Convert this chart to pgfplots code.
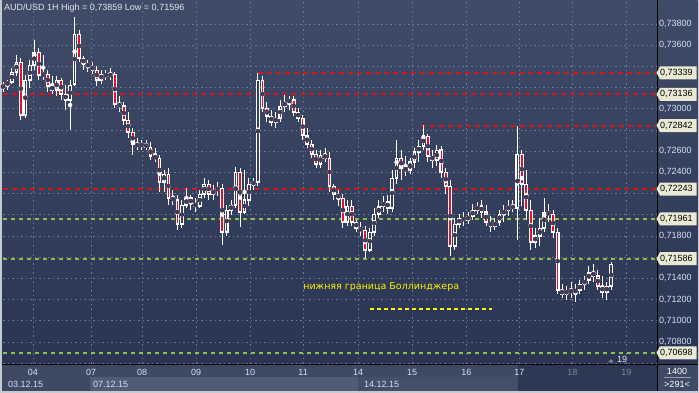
\documentclass[border=0pt]{standalone}
\usepackage{fontspec}
\setmainfont{Liberation Sans}
\newfontfamily\dejavu{DejaVu Sans}
\usepackage{pgfplots}
\pgfplotsset{compat=1.18}
\usepackage{pgfplotstable}

\definecolor{bgtop}{RGB}{63,75,103}
\definecolor{bgbot}{RGB}{41,53,82}
\definecolor{bordc}{RGB}{196,201,210}
\definecolor{gridc}{RGB}{105,120,150}
\definecolor{lvlred}{RGB}{214,18,30}
\definecolor{lvlgreen}{RGB}{140,192,72}
\definecolor{tagc}{RGB}{234,234,212}
\definecolor{tickc}{RGB}{214,224,244}
\definecolor{xgray}{RGB}{125,136,158}
\definecolor{bearc}{RGB}{230,16,40}
\definecolor{hollowc}{RGB}{52,64,92}
\definecolor{rowA}{RGB}{62,73,99}
\definecolor{rowB}{RGB}{80,92,118}
\definecolor{rowC}{RGB}{67,79,105}
\definecolor{rowD}{RGB}{44,56,84}

\pgfplotstableread{
x o h l c
0 73196 73252 73158 73224
2 73224 73271 73177 73252
4 73252 73385 73234 73347
6 73347 73507 73309 73441
8 73441 73479 72894 72941
10 72941 73318 72913 73271
12 73271 73460 73196 73413
14 73413 73649 73366 73535
16 73535 73573 73271 73318
18 73318 73507 73271 73328
20 73328 73366 73158 73215
22 73215 73309 73139 73177
24 73177 73309 73120 73271
26 73271 73290 73083 73139
28 73139 73224 72988 73083
30 73083 73271 72800 73224
32 73234 73866 73215 73705
34 73705 73743 73441 73479
36 73479 73498 73366 73422
38 73422 73460 73347 73403
40 73403 73441 73328 73366
42 73366 73403 73215 73271
44 73271 73366 73234 73328
46 73328 73366 73271 73309
48 73309 73385 73271 73328
50 73328 73347 73007 73045
52 73045 73120 72969 73026
54 73026 73064 72847 72894
56 72894 72969 72724 72781
58 72781 72818 72564 72667
60 72667 72724 72611 72649
62 72649 72705 72611 72667
64 72667 72705 72611 72639
66 72639 72686 72517 72554
68 72554 72630 72498 72535
70 72535 72564 72215 72309
72 72309 72422 72215 72385
74 72385 72441 72092 72158
76 72158 72234 72092 72140
78 72140 72186 71856 71913
80 71913 72140 71875 72092
82 72092 72252 72064 72158
84 72158 72186 72045 72102
86 72102 72158 72026 72083
88 72083 72234 72064 72196
90 72196 72347 72158 72290
92 72290 72328 72140 72196
94 72196 72281 72140 72234
96 72234 72309 72177 72252
98 72252 72290 71715 71837
100 71837 72092 71800 72045
102 72045 72140 71998 72092
104 72092 72451 72064 72403
106 72403 72441 71884 72026
108 72026 72422 72007 72140
110 72140 72347 72083 72290
112 72290 72347 72234 72309
114 72309 73337 72271 73271
116 73271 73309 72969 73007
118 73007 73064 72875 72932
120 72932 72988 72837 72875
122 72875 72969 72818 72913
124 72913 73083 72875 73026
126 73026 73130 72969 73064
128 73064 73120 72988 73083
130 73083 73120 72932 72969
132 72969 73007 72875 72913
134 72913 72941 72705 72752
136 72752 72818 72630 72667
138 72667 72705 72535 72573
140 72573 72611 72441 72479
142 72479 72611 72441 72564
144 72564 72630 72498 72535
146 72535 72592 72215 72271
148 72271 72290 72140 72196
150 72196 72234 72083 72158
152 72158 72196 71875 71932
154 71932 72140 71894 72083
156 72083 72140 71894 71932
158 71932 71951 71837 71875
160 71875 71932 71800 71856
162 71856 71894 71592 71668
164 71668 71875 71649 71837
166 71837 72064 71800 72007
168 72007 72140 71969 72083
170 72083 72177 72026 72121
172 72121 72186 72007 72064
174 72064 72422 72026 72347
176 72347 72705 72290 72535
178 72535 72611 72328 72441
180 72441 72554 72366 72422
182 72422 72535 72385 72498
184 72498 72630 72441 72592
186 72592 72705 72498 72649
188 72649 72847 72611 72743
190 72743 72762 72498 72554
192 72554 72611 72441 72517
194 72517 72658 72460 72611
196 72611 72649 72347 72403
198 72403 72441 72196 72271
200 72271 72328 71611 71705
202 71705 71969 71668 71913
204 71913 72007 71875 71969
206 71969 72026 71894 71951
208 71951 72026 71913 71988
210 71988 72102 71951 72045
212 72045 72121 72007 72083
214 72083 72140 71969 72026
216 72026 72092 71894 71932
218 71932 71988 71837 71894
220 71894 71969 71856 71932
222 71932 72045 71894 72007
224 72007 72092 71932 72045
226 72045 72140 71988 72083
228 72083 72140 72026 72064
230 72064 72837 71762 72573
232 72573 72611 72083 72290
234 72290 72422 71951 72045
236 72045 72140 71668 71743
238 71743 71875 71686 71800
240 71800 71969 71705 71875
242 71875 72158 71837 72026
244 72026 72102 71932 72007
246 72007 72045 71781 71837
248 71837 71875 71252 71290
250 71290 71347 71215 71252
252 71252 71328 71196 71290
254 71290 71366 71215 71271
256 71271 71347 71177 71290
258 71290 71385 71252 71347
260 71347 71422 71290 71385
262 71385 71517 71347 71460
264 71460 71536 71366 71422
266 71422 71479 71290 71328
268 71328 71422 71215 71271
270 71271 71366 71196 71328
272 71328 71554 71290 71536
}\candles

\begin{document}
\begin{tikzpicture}[x=1pt,y=1pt]
\useasboundingbox (0,0) rectangle (699,393);
\fill[bordc] (0,0) rectangle (699,393);
\shade[top color=bgtop,bottom color=bgbot] (2,29) rectangle (697.5,393);
% time strip
\fill[rowA] (2,16) rectangle (518,29);
\fill[rowD] (518,2) rectangle (657,29);
\fill[rowA] (2,2) rectangle (90,16);
\fill[rowB] (90,2) rectangle (358,16);
\fill[rowC] (358,2) rectangle (518,16);
\fill[rowA] (657,2) rectangle (697.5,29);
\draw[black,line width=1pt] (657,2) -- (657,393);
\draw[black,line width=1pt] (2,28.5) -- (697.5,28.5);
\draw[xgray!80!white,line width=0.6pt] (664,15.5) -- (691,15.5);

\begin{axis}[
  at={(3pt,29pt)}, anchor=south west, scale only axis,
  width=653pt, height=363pt,
  xmin=0, xmax=292, ymin=70592, ymax=74017,
  axis line style={draw=none},
  major tick length=0pt,
  scaled y ticks=false, scaled x ticks=false,
  xtick={13.4,39.4,62.2,86.4,110.5,134.2,158.8,183,207.2,230.9,254.6,278.7},
  xticklabels={04,07,08,09,10,11,14,15,16,17,{\textcolor{xgray}{18}},{\textcolor{xgray}{19}}},
  xticklabel style={anchor=center, yshift=-8pt, font=\fontsize{9}{10}\selectfont, text=tickc, inner sep=0pt},
  ytick={70600,70800,71000,71200,71400,71600,71800,72000,72200,72400,72600,72800,73000,73200,73400,73600,73800},
  yticklabels={{},{0,70800},{0,71000},{0,71200},{0,71400},{},{0,71800},{},{},{0,72400},{0,72600},{},{0,73000},{},{},{0,73600},{0,73800}},
  yticklabel pos=right,
  yticklabel style={anchor=west, xshift=3pt, font=\fontsize{9}{10}\selectfont, text=tickc, inner sep=0pt},
  xmajorgrids, ymajorgrids,
  major grid style={gridc, dash pattern=on 1.5pt off 3pt, line width=0.7pt},
]
% level lines
\addplot[lvlred, line width=2pt, dash pattern=on 4.5pt off 4.5pt, forget plot] coordinates {(114.1,73339) (292,73339)};
\addplot[lvlred, line width=2pt, dash pattern=on 4.5pt off 4.5pt, forget plot] coordinates {(0,73136) (292,73136)};
\addplot[lvlred, line width=2pt, dash pattern=on 4.5pt off 4.5pt, forget plot] coordinates {(187,72842) (292,72842)};
\addplot[lvlred, line width=2pt, dash pattern=on 4.5pt off 4.5pt, forget plot] coordinates {(0,72243) (292,72243)};
\addplot[lvlgreen, line width=2pt, dash pattern=on 3.5pt off 4.5pt, forget plot] coordinates {(0,71961) (292,71961)};
\addplot[lvlgreen, line width=2pt, dash pattern=on 3.5pt off 4.5pt, forget plot] coordinates {(0,71586) (292,71586)};
\addplot[lvlgreen, line width=2pt, dash pattern=on 3.5pt off 4.5pt, forget plot] coordinates {(0,70698) (292,70698)};
% yellow line (lower Bollinger band)
\addplot[yellow, line width=1.8pt, dash pattern=on 4pt off 3pt, forget plot] coordinates {(164.2,71111) (218.8,71111)};
% wicks
\addplot[white, only marks, mark=none, forget plot,
  error bars/.cd, y dir=both, y explicit, error mark=none,
  error bar style={white, line width=1pt, solid}]
  table[x=x, y expr={(\thisrow{h}+\thisrow{l})/2}, y error expr={(\thisrow{h}-\thisrow{l})/2}] {\candles};
% bodies
\addplot[white, only marks, mark=none, forget plot,
  error bars/.cd, y dir=both, y explicit, error mark=none,
  error bar style={white, line width=3.8pt, solid}]
  table[x=x, y expr={(\thisrow{o}+\thisrow{c})/2}, y error expr={abs(\thisrow{o}-\thisrow{c})/2+5}] {\candles};
% bear fill
\addplot[bearc, only marks, mark=none, forget plot,
  error bars/.cd, y dir=both, y explicit, error mark=none,
  error bar style={bearc, line width=1.6pt, solid}]
  table[x=x, y expr={(\thisrow{o}+\thisrow{c})/2}, y error expr={max((\thisrow{o}-\thisrow{c})/2-8,0)}] {\candles};
% bull hollow
\addplot[hollowc, only marks, mark=none, forget plot,
  error bars/.cd, y dir=both, y explicit, error mark=none,
  error bar style={hollowc, line width=1.6pt, solid}]
  table[x=x, y expr={(\thisrow{o}+\thisrow{c})/2}, y error expr={max((\thisrow{c}-\thisrow{o})/2-8,0)}] {\candles};

\node[anchor=west, text=yellow, font=\dejavu\fontsize{9.5}{10}\selectfont, inner sep=0pt] at (axis cs:134.2,71318) {нижняя граница Боллинджера};
\coordinate (t1) at (axis cs:292,73339);
\coordinate (t2) at (axis cs:292,73136);
\coordinate (t3) at (axis cs:292,72842);
\coordinate (t4) at (axis cs:292,72243);
\coordinate (t5) at (axis cs:292,71961);
\coordinate (t6) at (axis cs:292,71586);
\coordinate (t7) at (axis cs:292,70698);
\end{axis}

% price tags
\foreach \c/\t in {t1/{0,73339},t2/{0,73136},t3/{0,72842},t4/{0,72243},t5/{0,71961},t6/{0,71586},t7/{0,70698}}{
  \fill[tagc] ([xshift=0.5pt]\c) -- ([xshift=4pt,yshift=6.5pt]\c) -- ([xshift=40.5pt,yshift=6.5pt]\c) -- ([xshift=40.5pt,yshift=-6.5pt]\c) -- ([xshift=4pt,yshift=-6.5pt]\c) -- cycle;
  \node[anchor=west, inner sep=0pt, font=\fontsize{9}{10}\selectfont, text=black] at ([xshift=4pt]\c) {\t};
}

% title
\node[anchor=west, inner sep=0pt, text=white!82!gridc, font=\fontsize{9}{10}\selectfont] at (4,385) {AUD/USD 1H High = 0,73859 Low = 0,71596};
% dates
\node[anchor=west, inner sep=0pt, text=tickc, font=\fontsize{9}{10}\selectfont] at (8,9) {03.12.15};
\node[anchor=west, inner sep=0pt, text=tickc, font=\fontsize{9}{10}\selectfont] at (93,9) {07.12.15};
\node[anchor=west, inner sep=0pt, text=tickc, font=\fontsize{9}{10}\selectfont] at (364,9) {14.12.15};
% corner box
\node[inner sep=0pt, text=white, font=\fontsize{9}{10}\selectfont] at (677,22) {1400};
\node[inner sep=0pt, text=white, font=\fontsize{9}{10}\selectfont] at (677,8.5) {>291<};
% marker
\fill[xgray] (608,30.5) -- (614,30.5) -- (611,34) -- cycle;
\node[anchor=west, inner sep=0pt, text=white!85!gridc, font=\fontsize{9}{10}\selectfont] at (617,34) {19};
\end{tikzpicture}
\end{document}
